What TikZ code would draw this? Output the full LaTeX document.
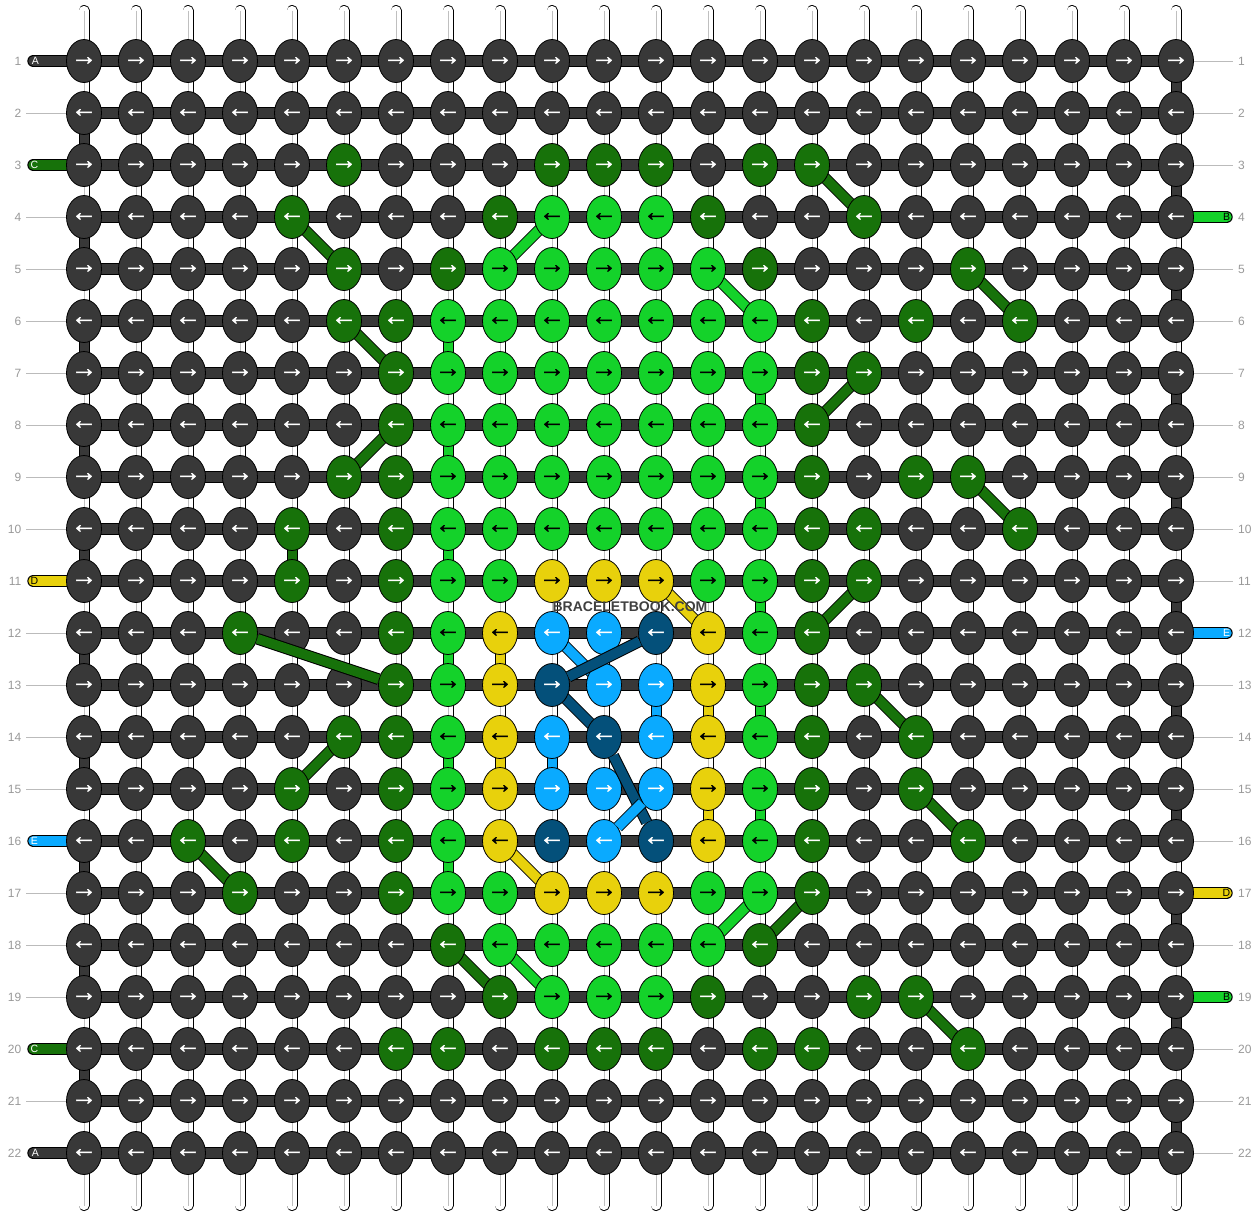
\documentclass[tikz,border=0pt]{standalone}
\usepackage{fontspec}
\setmainfont{Liberation Sans}
\newfontfamily\arrowfont{Liberation Sans Bold}[FakeBold=1.4]
\usepackage{xstring}
\usetikzlibrary{shapes.geometric}
\definecolor{cA}{HTML}{383838}
\definecolor{cB}{HTML}{14D22A}
\definecolor{cC}{HTML}{17720A}
\definecolor{cD}{HTML}{E8D10C}
\definecolor{cE}{HTML}{0AAAFF}
\definecolor{cF}{HTML}{04507A}
\colorlet{tA}{white}\colorlet{tB}{black}\colorlet{tC}{white}
\colorlet{tD}{black}\colorlet{tE}{white}\colorlet{tF}{white}
\definecolor{lblgray}{HTML}{999999}
\definecolor{linegray}{HTML}{BBBBBB}
\definecolor{wmgray}{HTML}{404040}
\pgfdeclarelayer{back}
\pgfsetlayers{back,main}
\tikzset{
  knot/.style={ellipse, draw=black, line width=0.8pt, minimum width=35pt,
    minimum height=43pt, inner xsep=-8pt, inner ysep=-4pt, font=\arrowfont\fontsize{26}{26}\selectfont},
  rowlbl/.style={text=lblgray, font=\fontsize{12}{12}\selectfont, inner sep=0pt},
  stublbl/.style={font=\fontsize{10.5}{11}\selectfont, inner sep=0pt},
  outl/.style={line width=12.4pt, black},
  fillband/.style={line width=10.4pt, draw=#1},
  voutl/.style={line width=11pt, black},
  vfill/.style={line width=9pt, draw=#1},
  doutl/.style={line width=11.6pt, black},
  dfill/.style={line width=9.6pt, draw=#1},
  guide/.style={draw=linegray, line width=1pt}
}
\begin{document}
\begin{tikzpicture}[x=1pt,y=-1pt]
\useasboundingbox (0,0) rectangle (1260,1216);
% knots
\foreach \r/\rowstr in {
1/AAAAAAAAAAAAAAAAAAAAAA,
2/AAAAAAAAAAAAAAAAAAAAAA,
3/AAAAACAAACCCACCAAAAAAA,
4/AAAACAAACBBBCAACAAAAAA,
5/AAAAACACBBBBBCAAACAAAA,
6/AAAAACCBBBBBBBCACACAAA,
7/AAAAAACBBBBBBBCCAAAAAA,
8/AAAAAACBBBBBBBCAAAAAAA,
9/AAAAACCBBBBBBBCACCAAAA,
10/AAAACACBBBBBBBCCAACAAA,
11/AAAACACBBDDDBBCCAAAAAA,
12/AAACAACBDEEFDBCAAAAAAA,
13/AAAAAACBDFEEDBCCAAAAAA,
14/AAAAACCBDEFEDBCACAAAAA,
15/AAAACACBDEEEDBCACAAAAA,
16/AACACACBDFEFDBCAACAAAA,
17/AAACAACBBDDDBBCAAAAAAA,
18/AAAAAAACBBBBBCAAAAAAAA,
19/AAAAAAAACBBBCAACCAAAAA,
20/AAAAAACCACCCACCAACAAAA,
21/AAAAAAAAAAAAAAAAAAAAAA,
22/AAAAAAAAAAAAAAAAAAAAAA}{
  \pgfmathtruncatemacro{\isodd}{mod(\r,2)}
  \foreach \c in {1,...,22}{
    \StrChar{\rowstr}{\c}[\ch]
    \edef\kc{c\ch}\edef\tc{t\ch}
    \ifnum\isodd=1 \def\arr{→}\else\def\arr{←}\fi
    \node[knot, fill=\kc, text=\tc] (k\r-\c) at ({32+52*\c},{9+52*\r}) {\arr};
  }
  \node[rowlbl, anchor=east] (nl\r) at (21.5,{9+52*\r}) {\r};
  \node[rowlbl, anchor=west] (nr\r) at (1238,{9+52*\r}) {\r};
  \coordinate (ll\r) at (26,{9+52*\r});
  \coordinate (rl\r) at (1233,{9+52*\r});
  \coordinate (ls\r) at (33.5,{9+52*\r});
  \coordinate (rs\r) at (1226.5,{9+52*\r});
}
\begin{pgfonlayer}{back}
\fill[white] (0,0) rectangle (1260,1216);
% vertical white strings
\foreach \c in {1,...,22}{
  \coordinate (t\c) at ({32+52*\c},10.5);
  \coordinate (b\c) at ({32+52*\c},1205.5);
  \draw[line width=11pt, line cap=round, black] (t\c) -- (b\c);
  \draw[line width=9.2pt, line cap=round, white] (t\c) -- (b\c);
  \draw[line width=0.9pt, black!25] (t\c) -- (b\c);
}
% guide lines to row numbers
\foreach \r in {2,4,5,6,7,8,9,10,12,13,14,15,17,18,19,21}{
  \draw[guide] (ll\r) -- (k\r-1);
}
\foreach \r in {1,2,3,5,6,7,8,9,10,11,13,14,15,16,18,20,21,22}{
  \draw[guide] (k\r-22) -- (rl\r);
}
% horizontal bands
\foreach \r in {1,...,22}{
  \draw[outl] (k\r-1.center) -- (k\r-22.center);
  \draw[fillband=cA] (k\r-1.center) -- (k\r-22.center);
}
% stubs
\foreach \r/\col in {1/cA,3/cC,11/cD,16/cE,20/cC,22/cA}{
  \draw[outl, line cap=round] (ls\r) -- (k\r-1.center);
  \draw[fillband=\col, line cap=round] (ls\r) -- (k\r-1.center);
}
\foreach \r/\col in {4/cB,12/cE,17/cD,19/cB}{
  \draw[outl, line cap=round] (rs\r) -- (k\r-22.center);
  \draw[fillband=\col, line cap=round] (rs\r) -- (k\r-22.center);
}
% coloured vertical segments
\foreach \r/\c/\col in {2/1/cA,4/1/cA,6/1/cA,8/1/cA,10/1/cA,12/1/cA,14/1/cA,16/1/cA,18/1/cA,20/1/cA,
  1/22/cA,3/22/cA,5/22/cA,7/22/cA,9/22/cA,11/22/cA,13/22/cA,15/22/cA,17/22/cA,19/22/cA,21/22/cA,
  6/8/cB,8/8/cB,10/8/cB,12/8/cB,14/8/cB,16/8/cB,
  7/14/cB,9/14/cB,11/14/cB,13/14/cB,15/14/cB,
  12/9/cD,14/9/cD,13/13/cD,15/13/cD,14/10/cE,13/12/cE,10/5/cC}{
  \pgfmathtruncatemacro{\rr}{\r+1}
  \draw[voutl] (k\r-\c.center) -- (k\rr-\c.center);
  \draw[vfill=\col] (k\r-\c.center) -- (k\rr-\c.center);
}
% short diagonals
\foreach \ra/\ca/\rb/\cb/\col in {4/5/5/6/cC,6/6/7/7/cC,8/7/9/6/cC,3/15/4/16/cC,5/18/6/19/cC,
  7/16/8/15/cC,9/18/10/19/cC,11/16/12/15/cC,14/6/15/5/cC,13/16/14/17/cC,15/17/16/18/cC,
  16/3/17/4/cC,17/15/18/14/cC,18/8/19/9/cC,19/17/20/18/cC,
  4/10/5/9/cB,5/13/6/14/cB,17/14/18/13/cB,18/9/19/10/cB,
  11/12/12/13/cD,16/9/17/10/cD,12/10/13/11/cE,13/10/14/11/cF}{
  \draw[doutl] (k\ra-\ca.center) -- (k\rb-\cb.center);
  \draw[dfill=\col] (k\ra-\ca.center) -- (k\rb-\cb.center);
}
\end{pgfonlayer}
% long diagonals over the knots
\foreach \ra/\ca/\rb/\cb/\col in {12/4/13/7/cC,12/12/13/10/cF,14/11/16/12/cF,15/12/16/11/cE}{
  \draw[doutl] (k\ra-\ca) -- (k\rb-\cb);
  \draw[dfill=\col] (k\ra-\ca) -- (k\rb-\cb);
}
% stub letters
\node[stublbl, text=white] (sl1) at (ls1) [xshift=2pt] {A};
\node[stublbl, text=white] (sl3) at (ls3) [xshift=1pt] {C};
\node[stublbl, text=black] (sl11) at (ls11) [xshift=1pt] {D};
\node[stublbl, text=white] (sl16) at (ls16) [xshift=1pt] {E};
\node[stublbl, text=white] (sl20) at (ls20) [xshift=1pt] {C};
\node[stublbl, text=white] (sl22) at (ls22) [xshift=2pt] {A};
\node[stublbl, text=black] (sr4) at (rs4) {B};
\node[stublbl, text=white] (sr12) at (rs12) {E};
\node[stublbl, text=black] (sr17) at (rs17) {D};
\node[stublbl, text=black] (sr19) at (rs19) {B};
% watermark
\node[text=wmgray, font=\bfseries\fontsize{14}{14}\selectfont, inner sep=0pt] (wm) at (630,607) {BRACELETBOOK.COM};
\end{tikzpicture}
\end{document}
